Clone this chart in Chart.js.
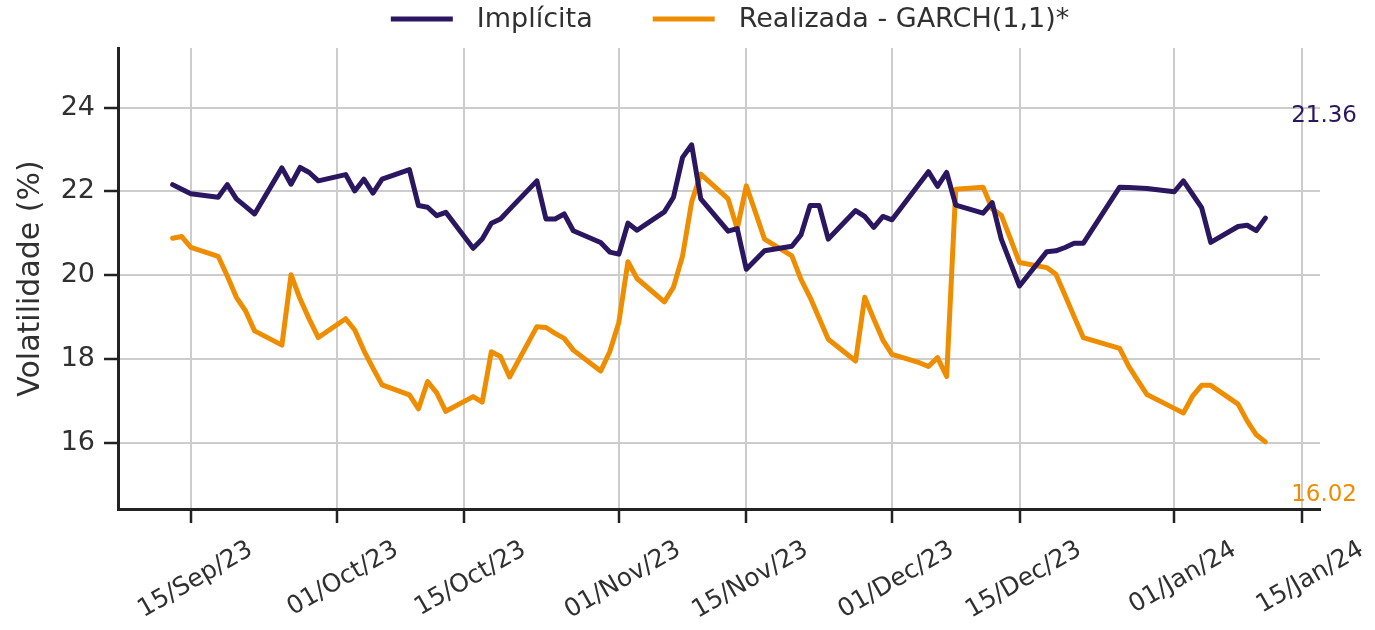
<!DOCTYPE html>
<html>
<head>
<meta charset="utf-8">
<title>Volatilidade</title>
<script src="https://cdn.jsdelivr.net/npm/chart.js@4.4.1/dist/chart.umd.min.js"></script>
<style>
  body { margin: 0; background: #fff; }
  canvas { display: block; }
</style>
</head>
<body>
<canvas id="vol" width="1375" height="630"></canvas>
<script>
// trading days
var dates = [
  '2023-09-13', '2023-09-14', '2023-09-15', '2023-09-18', '2023-09-19', '2023-09-20', '2023-09-21', '2023-09-22',
  '2023-09-25', '2023-09-26', '2023-09-27', '2023-09-28', '2023-09-29',
  '2023-10-02', '2023-10-03', '2023-10-04', '2023-10-05', '2023-10-06', '2023-10-09', '2023-10-10', '2023-10-11',
  '2023-10-12', '2023-10-13', '2023-10-16', '2023-10-17', '2023-10-18', '2023-10-19', '2023-10-20', '2023-10-23',
  '2023-10-24', '2023-10-25', '2023-10-26', '2023-10-27', '2023-10-30', '2023-10-31',
  '2023-11-01', '2023-11-02', '2023-11-03', '2023-11-06', '2023-11-07', '2023-11-08', '2023-11-09', '2023-11-10',
  '2023-11-13', '2023-11-14', '2023-11-15', '2023-11-16', '2023-11-17', '2023-11-20', '2023-11-21', '2023-11-22',
  '2023-11-23', '2023-11-24', '2023-11-27', '2023-11-28', '2023-11-29', '2023-11-30',
  '2023-12-01', '2023-12-04', '2023-12-05', '2023-12-06', '2023-12-07', '2023-12-08', '2023-12-11', '2023-12-12',
  '2023-12-13', '2023-12-14', '2023-12-15', '2023-12-18', '2023-12-19', '2023-12-20', '2023-12-21', '2023-12-22',
  '2023-12-26', '2023-12-27', '2023-12-28', '2023-12-29',
  '2024-01-01', '2024-01-02', '2024-01-03', '2024-01-04', '2024-01-05', '2024-01-08', '2024-01-09', '2024-01-10',
  '2024-01-11'
];

var implicita = [
  22.16, 22.05, 21.94, 21.86, 22.16, 21.82, 21.64, 21.46, 22.56, 22.17, 22.57, 22.45, 22.25,
  22.40, 22.01, 22.29, 21.96, 22.29, 22.52, 21.66, 21.62, 21.42, 21.50, 20.64, 20.86, 21.24, 21.34, 21.57, 22.25,
  21.34, 21.34, 21.46, 21.06, 20.78, 20.55,
  20.50, 21.24, 21.07, 21.51, 21.86, 22.81, 23.11, 21.82, 21.05, 21.11, 20.14, 20.36, 20.58, 20.69, 20.96, 21.66,
  21.66, 20.86, 21.54, 21.40, 21.14, 21.40,
  21.32, 22.18, 22.47, 22.12, 22.45, 21.67, 21.48, 21.73, 20.86, 20.30, 19.74, 20.56, 20.58, 20.66, 20.76, 20.76,
  22.10, 22.09, 22.08, 22.07,
  21.99, 22.25, 21.93, 21.61, 20.78, 21.16, 21.19, 21.06, 21.36
];

var realizada = [
  20.88, 20.92, 20.66, 20.45, 19.98, 19.47, 19.15, 18.67, 18.33, 20.01, 19.43, 18.95, 18.51,
  18.96, 18.69, 18.20, 17.78, 17.38, 17.14, 16.81, 17.46, 17.19, 16.75, 17.10, 16.97, 18.17, 18.06, 17.57, 18.77,
  18.75, 18.61, 18.49, 18.21, 17.71, 18.17,
  18.87, 20.32, 19.92, 19.36, 19.71, 20.46, 21.75, 22.41, 21.82, 21.11, 22.13, 21.50, 20.86, 20.46, 19.90, 19.47,
  18.97, 18.47, 17.95, 19.47, 18.95, 18.45,
  18.11, 17.91, 17.82, 18.03, 17.58, 22.05, 22.10, 21.58, 21.43, 20.87, 20.30, 20.18, 20.02, 19.52, 19.01, 18.51,
  18.25, 17.82, 17.48, 17.15,
  16.82, 16.71, 17.11, 17.37, 17.37, 16.92, 16.52, 16.19, 16.02
];

var tickDates = ['2023-09-15', '2023-10-01', '2023-10-15', '2023-11-01', '2023-11-15',
                 '2023-12-01', '2023-12-15', '2024-01-01', '2024-01-15'];
var yTicks = [16, 18, 20, 22, 24];

var MONTHS = ['Jan', 'Feb', 'Mar', 'Apr', 'May', 'Jun', 'Jul', 'Aug', 'Sep', 'Oct', 'Nov', 'Dec'];
var DAY = 86400000;

function dayNum(s) {
  var p = s.split('-');
  return Date.UTC(+p[0], +p[1] - 1, +p[2]) / DAY;
}
function dayLabel(n) {
  var d = new Date(Math.round(n) * DAY);
  var dd = ('0' + d.getUTCDate()).slice(-2);
  return dd + '/' + MONTHS[d.getUTCMonth()] + '/' + String(d.getUTCFullYear()).slice(2);
}

var PURPLE = '#2b1660';
var ORANGE = '#ef8d00';
var FONT = "'DejaVu Sans', sans-serif";
var TEXT = '#303030';

Chart.defaults.font.family = FONT;
Chart.defaults.font.size = 26;
Chart.defaults.color = TEXT;

var xs = dates.map(dayNum);
var span = xs[xs.length - 1] - xs[0];
var allY = implicita.concat(realizada);

function points(vals) {
  return vals.map(function(v, i) { return {x: xs[i], y: v}; });
}

// legend on top and last values at the right
var extras = {
  id: 'extras',
  afterDraw: function(chart) {
    var ctx = chart.ctx, area = chart.chartArea;
    ctx.save();
    ctx.font = '27px ' + FONT;
    ctx.textBaseline = 'middle';
    var lineLen = 62, gap = 24, sep = 60;
    var items = chart.data.datasets.map(function(ds) {
      return {label: ds.label, color: ds.borderColor, w: ctx.measureText(ds.label).width};
    });
    var total = sep * (items.length - 1);
    items.forEach(function(it) { total += lineLen + gap + it.w; });
    var x = (area.left + area.right) / 2 + 11 - total / 2, y = 19;
    items.forEach(function(it) {
      ctx.strokeStyle = it.color;
      ctx.lineWidth = 5;
      ctx.beginPath();
      ctx.moveTo(x, y);
      ctx.lineTo(x + lineLen, y);
      ctx.stroke();
      ctx.fillStyle = TEXT;
      ctx.textAlign = 'left';
      ctx.fillText(it.label, x + lineLen + gap, y + 1);
      x += lineLen + gap + it.w + sep;
    });

    ctx.font = '23px ' + FONT;
    ctx.textAlign = 'right';
    chart.data.datasets.forEach(function(ds, i) {
      var last = ds.data[ds.data.length - 1].y;
      ctx.fillStyle = ds.borderColor;
      ctx.fillText(last.toFixed(2), area.right + 37, i === 0 ? area.top + 68 : area.bottom - 14);
    });
    ctx.restore();
  }
};

var ctx = document.getElementById('vol').getContext('2d');

var volChart = new Chart(ctx, {
  type: 'line',
  data: {
    datasets: [
      {
        label: 'Implícita',
        data: points(implicita),
        borderColor: PURPLE,
        backgroundColor: PURPLE,
        borderWidth: 5,
        pointRadius: 0,
        borderJoinStyle: 'round',
        borderCapStyle: 'round'
      },
      {
        label: 'Realizada - GARCH(1,1)*',
        data: points(realizada),
        borderColor: ORANGE,
        backgroundColor: ORANGE,
        borderWidth: 5,
        pointRadius: 0,
        borderJoinStyle: 'round',
        borderCapStyle: 'round'
      }
    ]
  },
  options: {
    responsive: false,
    animation: false,
    devicePixelRatio: 1,
    layout: { padding: { top: 48, right: 55, left: 0, bottom: 0 } },
    plugins: {
      legend: { display: false },
      tooltip: { enabled: false }
    },
    scales: {
      x: {
        type: 'linear',
        min: xs[0] - span * 0.05,
        max: xs[xs.length - 1] + span * 0.05,
        afterBuildTicks: function(scale) {
          scale.ticks = tickDates.map(function(s) { return {value: dayNum(s)}; });
        },
        afterFit: function(scale) { scale.height = 121; },
        ticks: {
          autoSkip: false,
          minRotation: 30,
          maxRotation: 30,
          labelOffset: 60,
          padding: 12,
          color: TEXT,
          font: { size: 25 },
          callback: function(v) { return dayLabel(v); }
        },
        grid: { color: '#cccccc', lineWidth: 2, tickColor: '#222222', tickLength: 14, tickWidth: 2.5 },
        border: { color: '#222222', width: 3 }
      },
      y: {
        min: Math.min.apply(null, allY) * 0.9,
        max: Math.max.apply(null, allY) * 1.1,
        afterBuildTicks: function(scale) {
          scale.ticks = yTicks.map(function(v) { return {value: v}; });
        },
        afterFit: function(scale) { scale.width = 118; },
        ticks: { padding: 9, color: TEXT, font: { size: 27 } },
        title: { display: true, text: 'Volatilidade (%)', color: TEXT, font: { size: 30 }, padding: { top: 13, bottom: 0 } },
        grid: { color: '#cccccc', lineWidth: 2, tickColor: '#222222', tickLength: 14, tickWidth: 2.5 },
        border: { color: '#222222', width: 3 }
      }
    }
  },
  plugins: [extras]
});
</script>
</body>
</html>
